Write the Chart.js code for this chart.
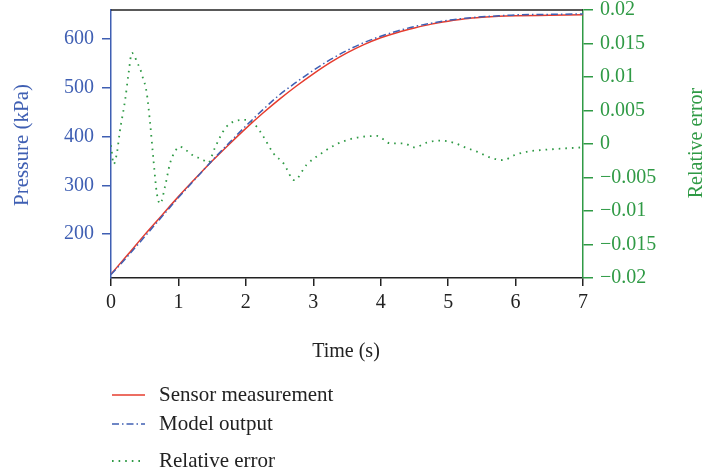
<!DOCTYPE html>
<html>
<head>
<meta charset="utf-8">
<script src="https://cdn.jsdelivr.net/npm/chart.js@4/dist/chart.umd.min.js"></script>
<style>
  html, body { margin: 0; padding: 0; background: #fff; }
  canvas { display: block; }
</style>
</head>
<body>
<canvas id="grafico" width="703" height="472"></canvas>
<script>
(function () {

  // pressure curves (kPa) sampled over time (s)
  const tiempos = [0, 0.25, 0.5, 0.75, 1, 1.25, 1.5, 1.75, 2, 2.25, 2.5, 2.75, 3, 3.25, 3.5, 3.75, 4, 4.25, 4.5, 4.75, 5, 5.25, 5.5, 5.75, 6, 6.5, 7];
  const sensor = [118, 158, 199, 238, 277, 314, 350, 384, 417, 448, 477, 504, 529, 552, 572, 589, 603, 614, 623, 631, 637, 642, 645, 647, 648, 649, 650];
  const modelo = [117, 155, 195, 235, 275, 313, 351, 387, 422, 455, 486, 512, 536, 558, 577, 593, 606, 617, 626, 633, 639, 643, 646, 648, 650, 651, 652];

  // relative error between both curves
  const tiemposError = [0, 0.04, 0.09, 0.13, 0.21, 0.26, 0.31, 0.35, 0.39, 0.43, 0.46, 0.53, 0.58, 0.63, 0.68, 0.73, 0.8, 0.875, 0.95, 1.02, 1.2, 1.37, 1.44, 1.54, 1.69, 1.81, 1.99, 2.16, 2.26, 2.41, 2.56, 2.72, 2.9, 3.12, 3.35, 3.62, 3.95, 4.14, 4.34, 4.5, 4.68, 4.88, 5.08, 5.25, 5.44, 5.62, 5.81, 6.0, 6.19, 6.39, 6.66, 7];
  const errores = [-0.0002, -0.003, -0.0012, 0.0018, 0.0066, 0.0105, 0.0136, 0.0131, 0.0121, 0.0113, 0.0103, 0.0076, 0.0031, -0.0024, -0.0074, -0.0089, -0.0064, -0.0029, -0.0011, -0.0004, -0.0016, -0.0024, -0.0028, -0.0006, 0.0023, 0.0033, 0.0036, 0.0026, 0.0011, -0.0014, -0.0029, -0.0054, -0.0031, -0.0014, 0.0000, 0.0009, 0.0012, 0.0001, 0.0001, -0.0005, 0.0002, 0.0005, 0.0002, -0.0005, -0.0012, -0.002, -0.0024, -0.0016, -0.0011, -0.0009, -0.0007, -0.0005];

  // tick values
  const ticksTiempo = [0, 1, 2, 3, 4, 5, 6, 7];
  const ticksPresion = [200, 300, 400, 500, 600];
  const ticksError = [-0.02, -0.015, -0.01, -0.005, 0, 0.005, 0.01, 0.015, 0.02];

  const rojo = '#e63c2e';
  const azul = '#3f5fb3';
  const verde = '#2f9a45';
  const negro = '#222';
  const fuente = "'Liberation Serif', 'DejaVu Serif', serif";

  const puntos = (xs, ys) => xs.map((x, i) => ({ x: x, y: ys[i] }));

  function formatoError(v) {
    const txt = String(Math.round(v * 1000) / 1000);
    return txt.replace('-', '\u2212');
  }

  // fixed box for the vertical axes so the plot sits at y 10..278
  function ajusteVertical(ancho) {
    return function (s) {
      s.width = ancho;
      s.paddingTop = 10;
      s.paddingBottom = 0;
    };
  }

  // frame top line, axis titles and the legend under the plot
  const extras = {
    id: 'extras',
    afterDraw(chart) {
      const ctx = chart.ctx;
      const area = chart.chartArea;
      ctx.save();

      ctx.strokeStyle = negro;
      ctx.lineWidth = 1.5;
      ctx.beginPath();
      ctx.moveTo(area.left, area.top);
      ctx.lineTo(area.right, area.top);
      ctx.stroke();

      ctx.textAlign = 'center';
      ctx.textBaseline = 'middle';
      ctx.font = '20px ' + fuente;
      ctx.fillStyle = negro;
      ctx.fillText('Time (s)', 346, 352);

      ctx.save();
      ctx.translate(22, 145);
      ctx.rotate(-Math.PI / 2);
      ctx.fillStyle = azul;
      ctx.font = '21px ' + fuente;
      ctx.fillText('Pressure (kPa)', 0, 0);
      ctx.restore();

      ctx.save();
      ctx.translate(697, 143);
      ctx.rotate(-Math.PI / 2);
      ctx.fillStyle = verde;
      ctx.fillText('Relative error', 0, 0);
      ctx.restore();

      const filas = [395, 424, 461];
      ctx.textAlign = 'left';
      ctx.font = '21px ' + fuente;
      chart.data.datasets.forEach(function (ds, i) {
        const y = filas[i];
        ctx.save();
        ctx.strokeStyle = ds.borderColor;
        ctx.lineWidth = ds.borderWidth;
        ctx.setLineDash(ds.borderDash || []);
        ctx.beginPath();
        ctx.moveTo(112, y);
        ctx.lineTo(145, y);
        ctx.stroke();
        ctx.restore();
        ctx.fillStyle = negro;
        ctx.fillText(ds.label, 159, y);
      });

      ctx.restore();
    }
  };

  const grafico = document.getElementById('grafico');
  new Chart(grafico, {
    type: 'line',
    data: {
      datasets: [
        {
          label: 'Sensor measurement',
          data: puntos(tiempos, sensor),
          borderColor: rojo,
          borderWidth: 1.5,
          pointRadius: 0,
          cubicInterpolationMode: 'monotone',
          yAxisID: 'yP',
          order: 2
        },
        {
          label: 'Model output',
          data: puntos(tiempos, modelo),
          borderColor: azul,
          borderWidth: 1.5,
          borderDash: [7, 3, 1.5, 3],
          pointRadius: 0,
          cubicInterpolationMode: 'monotone',
          yAxisID: 'yP',
          order: 1
        },
        {
          label: 'Relative error',
          data: puntos(tiemposError, errores),
          borderColor: verde,
          borderWidth: 1.8,
          borderDash: [1.6, 5],
          pointRadius: 0,
          cubicInterpolationMode: 'monotone',
          yAxisID: 'yE',
          order: 3
        }
      ]
    },
    options: {
      responsive: false,
      animation: false,
      layout: { padding: 0 },
      plugins: {
        legend: { display: false },
        tooltip: { enabled: false }
      },
      scales: {
        x: {
          type: 'linear',
          min: 0,
          max: 7,
          afterBuildTicks: s => { s.ticks = ticksTiempo.map(v => ({ value: v })); },
          afterFit: s => { s.height = 194; },
          grid: { drawOnChartArea: false, tickLength: 8, tickColor: negro, lineWidth: 1.5 },
          border: { color: negro, width: 1.5 },
          ticks: { color: negro, font: { family: fuente, size: 20 }, padding: 5, maxRotation: 0 }
        },
        yP: {
          position: 'left',
          min: 110,
          max: 660,
          afterBuildTicks: s => { s.ticks = ticksPresion.map(v => ({ value: v })); },
          afterFit: ajusteVertical(111),
          grid: { drawOnChartArea: false, tickLength: 9, tickColor: azul, lineWidth: 1.5 },
          border: { color: azul, width: 1.5 },
          ticks: { color: azul, font: { family: fuente, size: 20 }, padding: 8 }
        },
        yE: {
          position: 'right',
          min: -0.02,
          max: 0.02,
          afterBuildTicks: s => { s.ticks = ticksError.map(v => ({ value: v })); },
          afterFit: ajusteVertical(120),
          grid: { drawOnChartArea: false, tickLength: 10, tickColor: verde, lineWidth: 1.5 },
          border: { color: verde, width: 1.5 },
          ticks: { color: verde, font: { family: fuente, size: 20 }, padding: 7, callback: formatoError }
        }
      }
    },
    plugins: [extras]
  });

})();
</script>
</body>
</html>
